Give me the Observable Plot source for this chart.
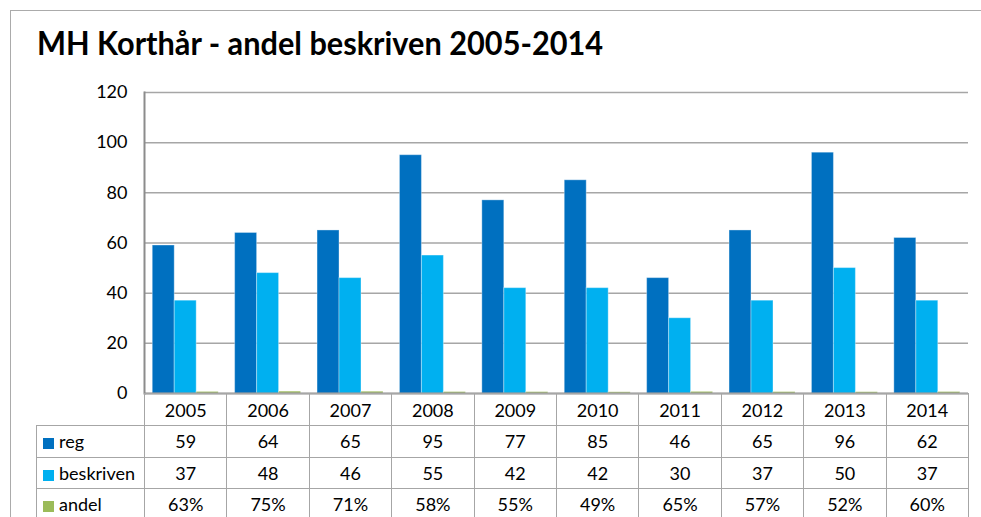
<!DOCTYPE html>
<html><head><meta charset="utf-8">
<script src="https://cdn.jsdelivr.net/npm/d3@7"></script>
<script src="https://cdn.jsdelivr.net/npm/@observablehq/plot@0.6"></script>
<style>
body{margin:0;width:981px;height:517px;overflow:hidden;background:#fff;font-family:Lato,"Open Sans",sans-serif;position:relative}
#border{position:absolute;left:10px;top:10px;width:1000px;height:600px;border-left:1.5px solid #ababab;border-top:1.5px solid #ababab}
#title{position:absolute;left:37px;top:24px;font-weight:bold;font-size:32px;font-family:Lato,sans-serif;white-space:nowrap;transform-origin:0 0;color:#000;line-height:1.2}
#chart{position:absolute;left:0;top:80px}
#tbl{position:absolute;left:36px;top:393px;border-collapse:collapse;table-layout:fixed;font-size:18px;font-family:Lato,sans-serif;color:#000}
#tbl td{border:1.5px solid #a6a6a6;text-align:center;padding:0;white-space:nowrap}
#tbl td.lab{text-align:left;padding-left:6px}
#tbl td.corner{border-left:none;border-top:none}
.key{display:inline-block;width:11px;height:11px;margin-right:5px;vertical-align:-1px}
</style>
</head><body>
<div id="border"></div>
<div id="title"></div>
<div id="chart"></div>
<table id="tbl"></table>
<script>
const title = "MH Korthår - andel beskriven 2005-2014";
const years = ["2005","2006","2007","2008","2009","2010","2011","2012","2013","2014"];
const reg = [59,64,65,95,77,85,46,65,96,62];
const beskriven = [37,48,46,55,42,42,30,37,50,37];
const andel = [0.63,0.75,0.71,0.58,0.55,0.49,0.65,0.57,0.52,0.60];
const seriesNames = ["reg","beskriven","andel"];
const seriesColors = ["#0070C0","#00B0F0","#9BBB59"];
const yTicks = [0,20,40,60,80,100,120];

// title
const t = document.getElementById("title");
t.textContent = title;
const tw = t.scrollWidth;
t.style.transform = `scaleX(${566/tw})`;

const W = 981, ML = 144, MR = 13, PI = 0.2, PO = 0.1;
const step = (W - ML - MR) / (years.length - PI + 2*PO);
const bw = step * (1 - PI);
const third = bw / 3;

const rows = years.map((y,i)=>({year:y, reg:reg[i], beskriven:beskriven[i], andel:andel[i]}));

const barOpts = (key, k) => ({
  x: "year", y: key, fill: seriesColors[k],
  stroke: "#ffffff", strokeOpacity: 0.35, strokeWidth: 1,
  insetLeft: third * k, insetRight: third * (2 - k)
});

const chart = Plot.plot({
  width: W, height: 327,
  marginLeft: ML, marginRight: MR, marginTop: 12, marginBottom: 14,
  style: {fontFamily: "Lato, sans-serif", fontSize: "18px", color: "#000", background: "transparent", overflow: "visible"},
  x: {type: "band", domain: years, paddingInner: PI, paddingOuter: PO, round: false, axis: null},
  y: {domain: [0,120], axis: null},
  marks: [
    Plot.ruleY(yTicks.filter(d=>d>0), {stroke: "#a6a6a6", strokeWidth: 1.5}),
    Plot.barY(rows, barOpts("reg",0)),
    Plot.barY(rows, barOpts("beskriven",1)),
    Plot.barY(rows, barOpts("andel",2)),
    Plot.ruleY([0], {stroke: "#8c8c8c", strokeWidth: 2}),
    Plot.frame({anchor: "left", stroke: "#8c8c8c", strokeWidth: 2}),
    Plot.axisY(yTicks, {tickSize: 0, tickPadding: 17, fontSize: 18, fill: "#000"})
  ]
});
document.getElementById("chart").appendChild(chart);

// data table
const tbl = document.getElementById("tbl");
const cg = document.createElement("colgroup");
const c0 = document.createElement("col"); c0.style.width = "108px"; cg.appendChild(c0);
years.forEach(()=>{const c=document.createElement("col"); c.style.width = step+"px"; cg.appendChild(c);});
tbl.appendChild(cg);
const hr = document.createElement("tr"); hr.style.height = "32px";
const corner = document.createElement("td"); corner.className = "corner"; hr.appendChild(corner);
years.forEach(y=>{const td=document.createElement("td"); td.textContent=y; hr.appendChild(td);});
tbl.appendChild(hr);
const fmt = [d=>String(d), d=>String(d), d=>Math.round(d*100)+"%"];
[reg, beskriven, andel].forEach((vals,k)=>{
  const tr = document.createElement("tr"); tr.style.height = "31.5px";
  const lab = document.createElement("td"); lab.className = "lab";
  const key = document.createElement("span"); key.className="key"; key.style.background = seriesColors[k];
  lab.appendChild(key); lab.appendChild(document.createTextNode(seriesNames[k]));
  tr.appendChild(lab);
  vals.forEach(v=>{const td=document.createElement("td"); td.textContent=fmt[k](v); tr.appendChild(td);});
  tbl.appendChild(tr);
});
</script>
</body></html>
